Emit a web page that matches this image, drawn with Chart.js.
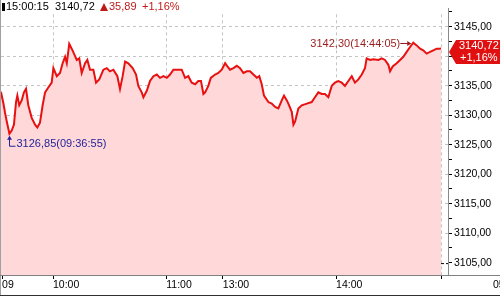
<!DOCTYPE html>
<html>
<head>
<meta charset="utf-8">
<script src="https://cdn.jsdelivr.net/npm/chart.js@4/dist/chart.umd.min.js"></script>
<style>
  html, body { margin: 0; padding: 0; background: #fff; }
</style>
</head>
<body>
<canvas id="priceChart" width="500" height="296"></canvas>
<script>
// trading minutes since 09:30 (lunch break removed) and index values
const times = [2.4, 3.7, 4.6, 5.5, 6.9, 8.1, 9.3, 10.4, 11.1, 12.1, 13.4, 14.6, 15.7, 16.9, 18.7, 20.5, 21.7, 23.1, 24.5, 25.8,
  27.5, 29.3, 30.2, 32.0, 33.7, 35.1, 36.4, 37.3, 38.6, 39.9, 41.1, 42.6, 43.9, 45.2, 47.0, 48.2, 49.6, 51.4, 52.8, 54.5,
  56.7, 58.5, 60.2, 62.0, 64.1, 65.5, 66.9, 68.2, 69.9, 72.2, 74.0, 75.2, 77.0, 77.9, 79.7, 81.4, 83.2, 85.0, 86.7, 88.5,
  90.3, 92.0, 93.8, 95.6, 98.2, 100.0, 101.7, 103.5, 105.3, 107.0, 108.4, 109.7, 110.6, 112.3, 113.6, 115.9, 117.6, 119.4, 121.2, 122.4,
  123.8, 125.6, 127.4, 129.1, 130.9, 132.7, 134.4, 136.2, 138.0, 139.3, 140.6, 141.8, 144.1, 145.9, 147.7, 149.4, 151.2, 152.4, 153.9, 154.7,
  156.5, 157.4, 158.3, 160.0, 161.8, 164.5, 167.1, 168.8, 170.6, 172.4, 174.1, 175.9, 177.7, 179.4, 181.2, 183.0, 184.7, 186.5, 188.3, 190.0,
  191.8, 193.6, 195.3, 196.2, 198.0, 199.7, 202.4, 204.2, 205.9, 207.7, 208.6, 210.0, 212.1, 213.9, 215.6, 217.4, 219.2, 220.9, 222.7, 224.5,
  226.2, 228.0, 229.8, 231.5, 233.3, 234.7, 235.6];
const prices = [3133.98, 3132.01, 3130.36, 3128.93, 3126.85, 3127.40, 3128.39, 3132.22, 3133.32, 3131.68, 3132.50, 3133.87, 3134.47, 3131.68, 3129.54, 3128.39, 3127.90, 3128.72, 3131.68, 3133.87,
  3134.69, 3135.51, 3137.98, 3136.61, 3137.15, 3138.80, 3139.90, 3138.80, 3142.09, 3141.27, 3140.44, 3139.36, 3139.62, 3137.15, 3138.80, 3139.36, 3137.71, 3137.71, 3135.51, 3136.07,
  3137.71, 3137.98, 3137.43, 3137.71, 3136.61, 3134.42, 3136.61, 3139.08, 3138.80, 3137.98, 3136.89, 3134.97, 3133.87, 3133.04, 3134.14, 3135.79, 3136.61, 3136.89, 3136.33, 3136.61,
  3136.33, 3136.89, 3137.71, 3137.71, 3137.71, 3136.33, 3136.61, 3135.51, 3135.25, 3135.79, 3135.79, 3133.60, 3133.87, 3134.97, 3136.33, 3136.89, 3137.15, 3137.71, 3138.80, 3138.26,
  3137.71, 3137.98, 3138.37, 3137.98, 3137.15, 3137.43, 3137.43, 3136.89, 3136.33, 3136.61, 3135.25, 3133.32, 3132.22, 3131.96, 3131.40, 3131.14, 3132.50, 3133.32, 3132.50, 3131.96,
  3130.58, 3128.39, 3128.93, 3131.14, 3131.68, 3131.96, 3132.22, 3133.04, 3133.87, 3133.60, 3133.60, 3133.04, 3134.97, 3135.51, 3135.79, 3135.51, 3134.97, 3135.79, 3136.61, 3135.51,
  3136.07, 3136.89, 3137.98, 3139.62, 3139.36, 3139.46, 3139.36, 3139.62, 3139.36, 3138.54, 3137.43, 3138.26, 3138.80, 3139.36, 3139.90, 3140.72, 3141.55, 3142.30, 3141.83, 3141.27,
  3141.00, 3140.44, 3140.72, 3141.00, 3141.27, 3141.27, 3141.30];

const xTickMinutes = [3, 30, 90, 120, 180, 235.6];
const xTickLabels = ['09', '10:00', '11:00', '13:00', '14:00', ''];
const xMin = 2.44, xMax = 239.3;
const yMin = 3102.9, yMax = 3148.12, yStep = 2.5;

const prevClose = 3104.83;
const close = 3140.72;
const change = 35.89;
const changePct = 1.16;
const lastTime = '15:00:15';
const lowTime = '09:36:55';
const highTime = '14:44:05';
const nextLabel = '05';

const FONT = '"Liberation Sans", Arial, "DejaVu Sans", sans-serif';
const fmt = v => v.toFixed(2).replace('.', ',');

const htsOverlay = {
  id: 'htsOverlay',
  afterDraw(chart) {
    const ctx = chart.ctx;
    const area = chart.chartArea;
    const xs = chart.scales.x, ys = chart.scales.y;
    ctx.save();

    // header strip
    ctx.fillStyle = '#fff';
    ctx.fillRect(area.left, 0, area.right - area.left - 1, 13);
    ctx.font = '11px ' + FONT;
    ctx.textBaseline = 'middle';
    ctx.textAlign = 'left';
    ctx.fillStyle = '#000';
    ctx.fillRect(2, 3, 3, 8);
    ctx.fillText(lastTime, 6, 7);
    ctx.fillText(fmt(close), 55, 7);
    ctx.fillStyle = '#be1a1a';
    ctx.beginPath();
    ctx.moveTo(100, 11); ctx.lineTo(104, 3); ctx.lineTo(108, 11); ctx.closePath();
    ctx.fill();
    ctx.fillText(fmt(change), 109, 7);
    ctx.fillText('+' + fmt(changePct) + '%', 142, 7);

    // frame
    ctx.lineWidth = 1;
    ctx.strokeStyle = '#a0a0a0';
    ctx.beginPath(); ctx.moveTo(0.5, 0); ctx.lineTo(0.5, chart.height); ctx.stroke();
    ctx.strokeStyle = '#808080';
    ctx.beginPath(); ctx.moveTo(0, area.bottom + 0.5); ctx.lineTo(chart.width, area.bottom + 0.5); ctx.stroke();
    ctx.strokeStyle = '#303030';
    ctx.beginPath(); ctx.moveTo(0, chart.height - 0.5); ctx.lineTo(chart.width, chart.height - 0.5); ctx.stroke();

    // low annotation
    let lo = 0, hi = 0;
    prices.forEach((p, i) => { if (p < prices[lo]) lo = i; if (p > prices[hi]) hi = i; });
    const lx = Math.round(xs.getPixelForValue(times[lo])) + 0.5;
    const ly = ys.getPixelForValue(prices[lo]);
    ctx.strokeStyle = '#23239a';
    ctx.fillStyle = '#23239a';
    ctx.beginPath();
    ctx.moveTo(lx, ly + 3); ctx.lineTo(lx, ly + 12.5); ctx.lineTo(lx + 6, ly + 12.5);
    ctx.stroke();
    ctx.beginPath();
    ctx.moveTo(lx, ly + 2); ctx.lineTo(lx - 2.5, ly + 6); ctx.lineTo(lx + 2.5, ly + 6); ctx.closePath();
    ctx.fill();
    ctx.fillText(fmt(prices[lo]) + '(' + lowTime + ')', lx + 7, ly + 10);

    // high annotation
    const hx = xs.getPixelForValue(times[hi]);
    const hy = Math.round(ys.getPixelForValue(prices[hi])) + 0.5;
    ctx.strokeStyle = '#9a1c1c';
    ctx.fillStyle = '#9a1c1c';
    ctx.beginPath(); ctx.moveTo(hx - 13, hy); ctx.lineTo(hx - 3, hy); ctx.stroke();
    ctx.beginPath();
    ctx.moveTo(hx - 2, hy); ctx.lineTo(hx - 6, hy - 2.5); ctx.lineTo(hx - 6, hy + 2.5); ctx.closePath();
    ctx.fill();
    ctx.textAlign = 'right';
    ctx.fillText(fmt(prices[hi]) + '(' + highTime + ')', hx - 13, hy);

    // last price tag on the axis
    const ty = ys.getPixelForValue(close);
    const tx = area.right + 1;
    ctx.fillStyle = '#e01010';
    ctx.beginPath();
    ctx.moveTo(tx, ty); ctx.lineTo(tx + 7, ty - 12); ctx.lineTo(chart.width, ty - 12);
    ctx.lineTo(chart.width, ty + 12); ctx.lineTo(tx + 7, ty + 12); ctx.closePath();
    ctx.fill();
    ctx.fillStyle = '#fff';
    ctx.textAlign = 'left';
    ctx.fillText(fmt(close), tx + 10, ty - 5.5);
    ctx.fillText('+' + fmt(changePct) + '%', tx + 11, ty + 6);

    // label of the next session, cut by the edge
    ctx.fillStyle = '#000';
    ctx.font = '10.5px ' + FONT;
    ctx.fillText(nextLabel, 493, area.bottom + 10);
    ctx.restore();
  }
};

new Chart(document.getElementById('priceChart'), {
  type: 'line',
  data: {
    datasets: [{
      data: times.map((t, i) => ({ x: t, y: prices[i] })),
      borderColor: '#e81010',
      borderWidth: 2,
      backgroundColor: '#ffd9d9',
      fill: 'start',
      pointRadius: 0,
      tension: 0
    }, {
      data: [{ x: xMin, y: prevClose }, { x: xMax, y: prevClose }],
      borderColor: '#000',
      borderWidth: 1,
      borderDash: [3, 2],
      fill: false,
      pointRadius: 0
    }]
  },
  options: {
    responsive: false,
    animation: false,
    devicePixelRatio: 1,
    layout: { padding: { left: 1, top: 0, right: 0, bottom: 0 } },
    plugins: { legend: { display: false }, tooltip: { enabled: false } },
    scales: {
      x: {
        type: 'linear',
        min: xMin,
        max: xMax,
        afterBuildTicks: s => { s.ticks = xTickMinutes.map(v => ({ value: v })); },
        afterFit: s => { s.height = 21; },
        ticks: {
          autoSkip: false,
          maxRotation: 0,
          align: 'start',
          padding: 0,
          color: '#000',
          font: { family: FONT, size: 10.5 },
          callback: (v, i) => xTickLabels[i]
        },
        grid: {
          color: c => c.index === 0 ? 'transparent' : '#c4c4c4',
          tickColor: '#000',
          tickLength: 4
        },
        border: { display: false, dash: [3, 3] }
      },
      y: {
        position: 'right',
        min: yMin,
        max: yMax,
        afterBuildTicks: s => {
          const t = [];
          for (let v = Math.ceil(yMin / yStep) * yStep; v <= yMax; v += yStep) t.push({ value: v });
          s.ticks = t;
        },
        afterFit: s => { s.width = 52; },
        ticks: {
          padding: 2,
          color: '#000',
          font: { family: FONT, size: 10.5 },
          callback: v => (v % 5 === 0 ? fmt(v) : '')
        },
        grid: {
          color: c => (c.tick && c.tick.value % 5 === 0 && c.tick.value !== 3105) ? '#c4c4c4' : 'transparent',
          tickColor: '#000',
          tickLength: 4
        },
        border: { display: true, color: '#8a8a8a', dash: [3, 3] }
      }
    }
  },
  plugins: [htsOverlay]
});
</script>
</body>
</html>
